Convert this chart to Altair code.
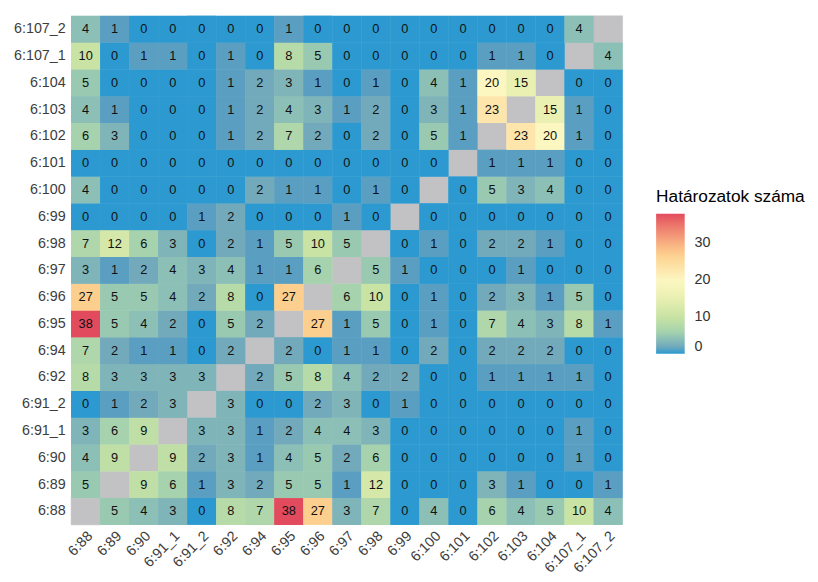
import altair as alt
import pandas as pd

cats = ["6:88", "6:89", "6:90", "6:91_1", "6:91_2", "6:92", "6:94", "6:95", "6:96",
        "6:97", "6:98", "6:99", "6:100", "6:101", "6:102", "6:103", "6:104", "6:107_1", "6:107_2"]

N = None
# rows keyed by y category; values follow x order in cats
r_107_2 = [4, 1, 0, 0, 0, 0, 0, 1, 0, 0, 0, 0, 0, 0, 0, 0, 0, 4, N]
r_107_1 = [10, 0, 1, 1, 0, 1, 0, 8, 5, 0, 0, 0, 0, 0, 1, 1, 0, N, 4]
r_104 = [5, 0, 0, 0, 0, 1, 2, 3, 1, 0, 1, 0, 4, 1, 20, 15, N, 0, 0]
r_103 = [4, 1, 0, 0, 0, 1, 2, 4, 3, 1, 2, 0, 3, 1, 23, N, 15, 1, 0]
r_102 = [6, 3, 0, 0, 0, 1, 2, 7, 2, 0, 2, 0, 5, 1, N, 23, 20, 1, 0]
r_101 = [0, 0, 0, 0, 0, 0, 0, 0, 0, 0, 0, 0, 0, N, 1, 1, 1, 0, 0]
r_100 = [4, 0, 0, 0, 0, 0, 2, 1, 1, 0, 1, 0, N, 0, 5, 3, 4, 0, 0]
r_99 = [0, 0, 0, 0, 1, 2, 0, 0, 0, 1, 0, N, 0, 0, 0, 0, 0, 0, 0]
r_98 = [7, 12, 6, 3, 0, 2, 1, 5, 10, 5, N, 0, 1, 0, 2, 2, 1, 0, 0]
r_97 = [3, 1, 2, 4, 3, 4, 1, 1, 6, N, 5, 1, 0, 0, 0, 1, 0, 0, 0]
r_96 = [27, 5, 5, 4, 2, 8, 0, 27, N, 6, 10, 0, 1, 0, 2, 3, 1, 5, 0]
r_95 = [38, 5, 4, 2, 0, 5, 2, N, 27, 1, 5, 0, 1, 0, 7, 4, 3, 8, 1]
r_94 = [7, 2, 1, 1, 0, 2, N, 2, 0, 1, 1, 0, 2, 0, 2, 2, 2, 0, 0]
r_92 = [8, 3, 3, 3, 3, N, 2, 5, 8, 4, 2, 2, 0, 0, 1, 1, 1, 1, 0]
r_91_2 = [0, 1, 2, 3, N, 3, 0, 0, 2, 3, 0, 1, 0, 0, 0, 0, 0, 0, 0]
r_91_1 = [3, 6, 9, N, 3, 3, 1, 2, 4, 4, 3, 0, 0, 0, 0, 0, 0, 1, 0]
r_90 = [4, 9, N, 9, 2, 3, 1, 4, 5, 2, 6, 0, 0, 0, 0, 0, 0, 1, 0]
r_89 = [5, N, 9, 6, 1, 3, 2, 5, 5, 1, 12, 0, 0, 0, 3, 1, 0, 0, 1]
r_88 = [N, 5, 4, 3, 0, 8, 7, 38, 27, 3, 7, 0, 4, 0, 6, 4, 5, 10, 4]

rows = {
    "6:88": r_88, "6:89": r_89, "6:90": r_90, "6:91_1": r_91_1, "6:91_2": r_91_2,
    "6:92": r_92, "6:94": r_94, "6:95": r_95, "6:96": r_96, "6:97": r_97, "6:98": r_98,
    "6:99": r_99, "6:100": r_100, "6:101": r_101, "6:102": r_102, "6:103": r_103,
    "6:104": r_104, "6:107_1": r_107_1, "6:107_2": r_107_2,
}

recs = []
for ycat, vals in rows.items():
    for xcat, v in zip(cats, vals):
        recs.append({"x": xcat, "y": ycat, "v": v, "na": v is None})
df = pd.DataFrame(recs)

FONT = "Liberation Sans"
LBL = "#3d3d3d"

xenc = alt.X("x:N", sort=cats, title=None,
             axis=alt.Axis(labelAngle=-45, labelAlign="right", labelBaseline="top",
                           ticks=False, domain=False, labelPadding=4, labelFontSize=14.5,
                           labelColor=LBL, labelFont=FONT))
yenc = alt.Y("y:N", sort=list(reversed(cats)), title=None,
             axis=alt.Axis(ticks=False, domain=False, labelPadding=6, labelFontSize=14.5,
                           labelColor=LBL, labelFont=FONT))

base = alt.Chart(df)

na_layer = base.transform_filter("datum.na").mark_rect(
    color="#c2c2c4", stroke="#c2c2c4", strokeWidth=0.6).encode(x=xenc, y=yenc)

color_domain = [0, 1, 2, 4, 6, 10, 15, 20, 27, 38]
color_range = ["#2c9ad0", "#5a9fc1", "#72aabc", "#8cbfb5", "#a6d3ad", "#c8e3a3",
               "#e9f0b2", "#fcf6c1", "#fdcf8e", "#e24b5e"]

leg = alt.Legend(type="gradient", orient="none", legendX=593, legendY=175,
                 direction="vertical", gradientLength=142,
                 gradientThickness=29, values=[0, 10, 20, 30],
                 titleFontSize=17.5, titleFontWeight="normal",
                 titleFont=FONT, titleColor="#000000",
                 labelFont=FONT, labelFontSize=14.5, labelColor="#333333",
                 labelOffset=10, titlePadding=8, gradientStrokeWidth=0)

cenc = alt.Color("v:Q", title="Határozatok száma",
                 scale=alt.Scale(domain=color_domain, range=color_range, interpolate="lab"),
                 legend=leg)

# drawn twice to hide anti-aliasing seams between cells
under = base.transform_filter("!datum.na").mark_rect(strokeWidth=0).encode(
    x=xenc, y=yenc, color=cenc)
rect = base.transform_filter("!datum.na").mark_rect().encode(
    x=xenc, y=yenc, color=cenc)

text = base.transform_filter("!datum.na").mark_text(font=FONT, fontSize=13, color="#111111").encode(
    x=xenc, y=yenc, text=alt.Text("v:Q", format="d"))

chart = alt.layer(na_layer, under, rect, text).properties(
    width=559, height=516,
    padding={"left": 5, "top": 3, "right": 5, "bottom": 5},
).configure_view(stroke=None).configure_scale(bandPaddingInner=0, bandPaddingOuter=0)

chart.save("out.html", embed_options={"renderer": "svg", "actions": False})
